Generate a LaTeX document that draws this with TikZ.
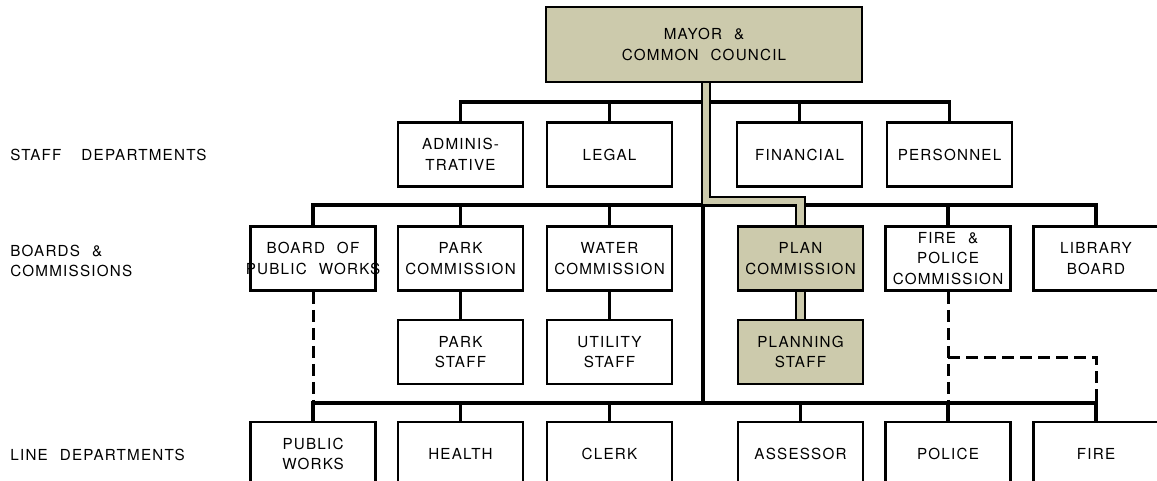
\documentclass[tikz,border=0pt]{standalone}
\usepackage{fontspec}
\setsansfont{TeX Gyre Heros}[LetterSpace=8,WordSpace=2.2]
\renewcommand{\familydefault}{\sfdefault}
\usepackage{tikz}
\usetikzlibrary{backgrounds}
\definecolor{shade}{RGB}{204,202,172}

\begin{document}
\begin{tikzpicture}[x=0.5pt,y=-0.5pt,
	box/.style={draw,line width=1.3pt,fill=white,minimum width=62.5pt,minimum height=32pt,inner sep=0pt,align=center,font=\fontsize{7.6}{10.2}\selectfont},
	planbox/.style={box,fill=shade},
	tag/.style={anchor=west,align=left,inner sep=0pt,font=\fontsize{7.6}{10.2}\selectfont},
	strip/.style={draw=black,line width=1pt,double=shade,double distance=3.2pt},
	link/.style={line width=1.6pt},
	loose/.style={line width=1.5pt,dash pattern=on 6pt off 3pt}]
	\useasboundingbox (0,0) rectangle (1157,481);

	%JOINS
	\coordinate (sl) at (0,102);
	\coordinate (bl) at (0,205);
	\coordinate (ll) at (0,403);
	\coordinate (dj) at (0,357);
	\coordinate (trunk) at (703,205);
	\coordinate (sj) at (706,201);

	%BOXES
	\node[planbox,minimum width=158pt,minimum height=37.5pt] (mayor) at (704,44.5) {MAYOR \&\\COMMON COUNCIL};

	\node[box] (admin) at (460.5,154.5) {ADMINIS-\\TRATIVE};
	\node[box] (legal) at (609.5,154.5) {LEGAL};
	\node[box] (fin) at (799.5,154.5) {FINANCIAL};
	\node[box] (pers) at (949.5,154.5) {PERSONNEL};

	\node[box] (bpw) at (313,258.5) {BOARD OF\\\makebox[60pt]{PUBLIC WORKS}};
	\node[box] (parkc) at (460.5,258.5) {PARK\\COMMISSION};
	\node[box] (waterc) at (609.5,258.5) {WATER\\COMMISSION};
	\node[planbox] (planc) at (800.5,258.5) {PLAN\\COMMISSION};
	\node[box] (fpc) at (948,258.5) {FIRE \&\\POLICE\\COMMISSION};
	\node[box] (lib) at (1096,258.5) {LIBRARY\\BOARD};

	\node[box] (parks) at (460.5,352) {PARK\\STAFF};
	\node[box] (utils) at (609.5,352) {UTILITY\\STAFF};
	\node[planbox] (plans) at (800.5,352) {PLANNING\\STAFF};

	\node[box] (pw) at (313,454) {PUBLIC\\WORKS};
	\node[box] (health) at (460.5,454) {HEALTH};
	\node[box] (clerk) at (609.5,454) {CLERK};
	\node[box] (assess) at (800.5,454) {ASSESSOR};
	\node[box] (police) at (948,454) {POLICE};
	\node[box] (fire) at (1096,454) {FIRE};

	\begin{scope}[on background layer]
	%LINES
	\draw[link] (admin.north) |- (pers.north |- sl) -- (pers.north);
	\foreach \n in {legal,fin}
		\draw[link] (\n.north) -- (\n.north |- sl);
	\draw[link] (bpw.north) |- (lib.north |- bl) -- (lib.north);
	\foreach \n in {parkc,waterc,fpc}
		\draw[link] (\n.north) -- (\n.north |- bl);
	\draw[link] (parkc.south) -- (parks.north);
	\draw[link] (waterc.south) -- (utils.north);
	\draw[link] (trunk) -- (trunk |- ll);
	\draw[link] (pw.north) |- (fire.north |- ll) -- (fire.north);
	\foreach \n in {health,clerk,assess,police}
		\draw[link] (\n.north) -- (\n.north |- ll);

	%DASHED
	\draw[loose] (bpw.south) -- (bpw.south |- ll);
	\draw[loose] (fpc.south) -- (fpc.south |- ll);
	\draw[loose] (fpc.south |- dj) -| (fire.north |- ll);

	%PLANNING PATH
	\draw[strip] (sj |- mayor.south) -- (sj) -| (planc.north);
	\draw[strip] (planc.south) -- (plans.north);
	\end{scope}

	%LABELS
	\node[tag] (lstaff) at (10,155) {STAFF\hspace{10pt}DEPARTMENTS};
	\node[tag] (lboards) at (10,261) {BOARDS \&\\COMMISSIONS};
	\node[tag] (lline) at (10,455) {LINE\hspace{6pt}DEPARTMENTS};
\end{tikzpicture}
\end{document}
